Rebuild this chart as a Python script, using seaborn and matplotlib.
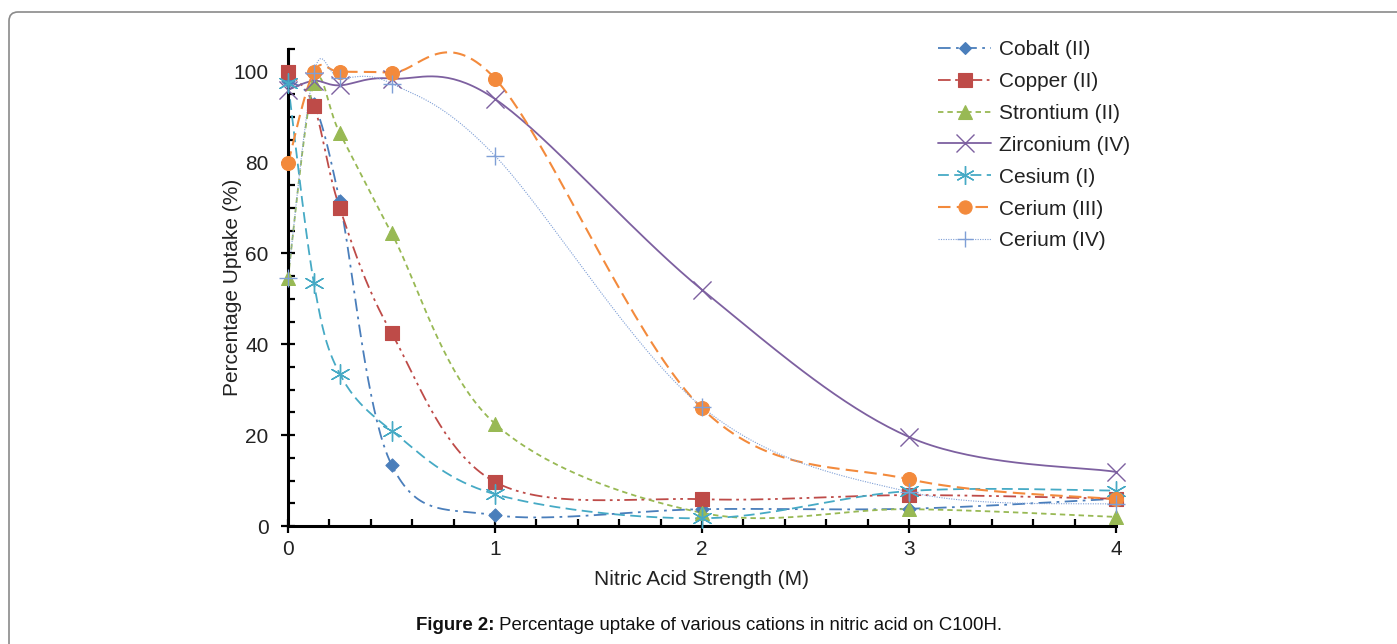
import numpy as np
import pandas as pd
import matplotlib
matplotlib.use("Agg")
import matplotlib.pyplot as plt
import seaborn as sns
from matplotlib.lines import Line2D
from matplotlib.patches import FancyBboxPatch
from matplotlib.transforms import IdentityTransform
from matplotlib.ticker import MultipleLocator

# ---------------- data ----------------
acid = [0, 0.125, 0.25, 0.5, 1, 2, 3, 4]
cobalt = [98, 93, 71.5, 13.5, 2.4, 3.7, 3.8, 6]
copper = [100, 92.5, 70, 42.5, 9.7, 5.9, 6.8, 6]
strontium = [54.7, 97.5, 86.5, 64.5, 22.5, 2.9, 3.7, 2.0]
zirconium = [96, 98, 97, 98.5, 94, 52, 19.6, 11.9]
cesium = [97.5, 53.5, 33.5, 21, 7, 1.7, 7.7, 7.8]
cerium3 = [79.8, 100, 100, 99.8, 98.5, 25.9, 10.3, 5.9]
cerium4 = [54.5, 99.8, 98.7, 97.4, 81.5, 26.2, 7.5, 4.8]

series_names = ["Cobalt (II)", "Copper (II)", "Strontium (II)", "Zirconium (IV)",
                "Cesium (I)", "Cerium (III)", "Cerium (IV)"]
series_values = [cobalt, copper, strontium, zirconium, cesium, cerium3, cerium4]

x_ticks = [0, 1, 2, 3, 4]
y_ticks = [0, 20, 40, 60, 80, 100]

# ---------------- styles ----------------
styles = {
    "Cobalt (II)":    dict(color="#4A7EBB", ls=(0, (7, 3, 1.5, 3)), lw=1.3, marker="D", s=45, mlw=0.8),
    "Copper (II)":    dict(color="#BE4B48", ls=(0, (7, 2.5, 1.5, 2.5, 1.5, 2.5)), lw=1.3, marker="s", s=100, mlw=0.8),
    "Strontium (II)": dict(color="#98B954", ls=(0, (3, 2.2)), lw=1.3, marker="^", s=100, mlw=0.8),
    "Zirconium (IV)": dict(color="#7D60A0", ls="-", lw=1.3, marker="x", s=170, mlw=1.0),
    "Cesium (I)":     dict(color="#46AAC5", ls=(0, (6, 3)), lw=1.3, marker=(6, 2, 0), s=200, mlw=1.0),
    "Cerium (III)":   dict(color="#F38A3C", ls=(0, (6, 3)), lw=1.5, marker="o", s=100, mlw=0.8),
    "Cerium (IV)":    dict(color="#7F9FD6", ls=(0, (1, 1.2)), lw=0.8, marker="+", s=150, mlw=1.0),
}


def smooth(x, y, n=40):
    """Excel-like smoothed line (Catmull-Rom style cubic Bezier)."""
    P = np.column_stack([x, y]).astype(float)
    out = [P[0]]
    t = np.linspace(0, 1, n)[1:, None]
    for i in range(len(P) - 1):
        p0 = P[i - 1] if i > 0 else P[i]
        p1, p2 = P[i], P[i + 1]
        p3 = P[i + 2] if i + 2 < len(P) else P[i + 1]
        c1 = p1 + (p2 - p0) / 6.0
        c2 = p2 - (p3 - p1) / 6.0
        seg = ((1 - t) ** 3) * p1 + 3 * ((1 - t) ** 2) * t * c1 + 3 * (1 - t) * t ** 2 * c2 + t ** 3 * p2
        out.extend(seg)
    return np.array(out)


sns.set_style("white")
plt.rcParams["font.family"] = ["Liberation Sans", "DejaVu Sans"]

FS = 15

fig = plt.figure(figsize=(13.97, 6.44), dpi=100)
ax = fig.add_axes([288 / 1397, 1 - 526 / 644, (1116 - 288) / 1397, (526 - 49) / 644])

for name, vals in zip(series_names, series_values):
    st = styles[name]
    curve = smooth(acid, vals)
    df = pd.DataFrame({"x": curve[:, 0], "y": curve[:, 1]})
    sns.lineplot(data=df, x="x", y="y", sort=False, estimator=None, ax=ax,
                 color=st["color"], linestyle=st["ls"], linewidth=st["lw"], zorder=2,
                 clip_on=False)

for name, vals in zip(series_names, series_values):
    st = styles[name]
    sns.scatterplot(x=acid, y=vals, ax=ax, marker=st["marker"], s=st["s"],
                    color=st["color"], edgecolor=st["color"], linewidth=st["mlw"], zorder=3,
                    clip_on=False)

ax.set_xlim(0, 4)
ax.set_ylim(0, 105)
ax.set_xticks(x_ticks)
ax.set_yticks(y_ticks)
ax.xaxis.set_minor_locator(MultipleLocator(0.2))
ax.yaxis.set_minor_locator(MultipleLocator(5))
ax.tick_params(axis="x", which="both", bottom=True, top=False)
ax.tick_params(axis="y", which="both", left=True, right=False)
ax.tick_params(axis="both", which="major", direction="inout", length=10, width=1.6,
               labelsize=FS, colors="black", labelcolor="#222222")
ax.tick_params(axis="x", which="major", pad=5)
ax.tick_params(axis="y", which="major", pad=9)
ax.tick_params(axis="both", which="minor", direction="in", length=5, width=1.6, colors="black")

for side in ["top", "right"]:
    ax.spines[side].set_visible(False)
for side in ["left", "bottom"]:
    ax.spines[side].set_linewidth(2.2)
    ax.spines[side].set_color("black")

ax.set_xlabel("Nitric Acid Strength (M)", fontsize=FS, color="#222222", labelpad=8)
ax.set_ylabel("Percentage Uptake (%)", fontsize=FS, color="#222222", labelpad=-6)

handles = []
for name in series_names:
    st = styles[name]
    ms = np.sqrt(st["s"])
    handles.append(Line2D([0], [0], color=st["color"], linestyle=st["ls"], linewidth=st["lw"],
                          marker=st["marker"], markersize=ms * 0.95, markerfacecolor=st["color"],
                          markeredgecolor=st["color"], markeredgewidth=st["mlw"]))
leg = ax.legend(handles, series_names, loc="upper left",
                bbox_to_anchor=(938 / 1397, 1 - 40 / 644), bbox_transform=fig.transFigure,
                frameon=False, fontsize=FS, handlelength=2.55, handletextpad=0.4,
                labelspacing=0.62, borderpad=0, borderaxespad=0)
for txt in leg.get_texts():
    txt.set_color("#222222")

# caption
fig.text(494 / 1397, 1 - 625 / 644, "Figure 2:", ha="right", va="center",
         fontsize=13.4, fontweight="bold", color="#111111")
fig.text(494 / 1397, 1 - 625 / 644, " Percentage uptake of various cations in nitric acid on C100H.",
         ha="left", va="center", fontsize=13.4, color="#111111")

# outer rounded frame
frame = FancyBboxPatch((9, -60), 1450, 644 - 12 + 60,
                       boxstyle="round,pad=0,rounding_size=9",
                       transform=IdentityTransform(), facecolor="none",
                       edgecolor="#8a8a8a", linewidth=1.2)
fig.add_artist(frame)

fig.savefig("out.png", dpi=100)
